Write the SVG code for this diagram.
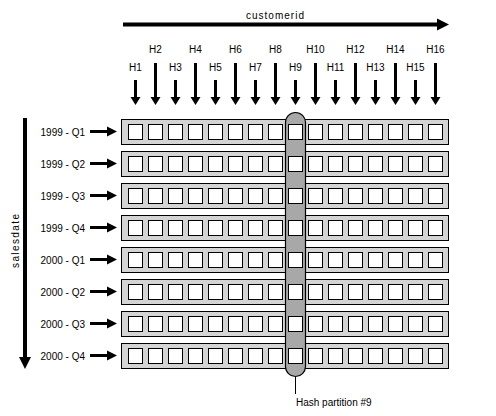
<svg xmlns="http://www.w3.org/2000/svg" width="496" height="416" viewBox="0 0 496 416">
<defs>
<style>
text{font-family:"Liberation Sans",Arial,sans-serif;font-size:10px;fill:#000}
.row{fill:#d4d4d4;stroke:#000;stroke-width:1}
.cell{fill:#fff;stroke:#000;stroke-width:1}
.pill{fill:#a8a8a8;stroke:#000;stroke-width:1.2}
.shaft{stroke:#000;fill:none}
.head{fill:#000}
</style>
<g id="cells">
<rect class="cell" x="128.5" y="5.5" width="14" height="15"/>
<rect class="cell" x="148.5" y="5.5" width="14" height="15"/>
<rect class="cell" x="168.5" y="5.5" width="14" height="15"/>
<rect class="cell" x="188.5" y="5.5" width="14" height="15"/>
<rect class="cell" x="208.5" y="5.5" width="14" height="15"/>
<rect class="cell" x="228.5" y="5.5" width="14" height="15"/>
<rect class="cell" x="248.5" y="5.5" width="14" height="15"/>
<rect class="cell" x="268.5" y="5.5" width="14" height="15"/>
<rect class="cell" x="308.5" y="5.5" width="14" height="15"/>
<rect class="cell" x="328.5" y="5.5" width="14" height="15"/>
<rect class="cell" x="348.5" y="5.5" width="14" height="15"/>
<rect class="cell" x="368.5" y="5.5" width="14" height="15"/>
<rect class="cell" x="388.5" y="5.5" width="14" height="15"/>
<rect class="cell" x="408.5" y="5.5" width="14" height="15"/>
<rect class="cell" x="428.5" y="5.5" width="14" height="15"/>
</g>
</defs>
<rect width="496" height="416" fill="#fff"/>

<g id="customerid-axis">
<line class="shaft" x1="123" y1="24.5" x2="438" y2="24.5" stroke-width="4"/>
<polygon class="head" points="437,18.5 449,24.5 437,30.5"/>
<text x="275" y="19" text-anchor="middle" textLength="58" lengthAdjust="spacing">customerid</text>
</g>

<g id="salesdate-axis">
<line class="shaft" x1="25" y1="118" x2="25" y2="358" stroke-width="4"/>
<polygon class="head" points="19,357 31,357 25,369"/>
<text transform="translate(18.5,241) rotate(-90)" text-anchor="middle" textLength="54" lengthAdjust="spacing">salesdate</text>
</g>

<g id="hash-labels">
<g id="h1"><text x="135.5" y="71" text-anchor="middle">H1</text><line class="shaft" x1="135.5" y1="80" x2="135.5" y2="98" stroke-width="3"/><polygon class="head" points="130.5,97 140.5,97 135.5,105"/></g>
<g id="h2"><text x="155.5" y="53" text-anchor="middle">H2</text><line class="shaft" x1="155.5" y1="63" x2="155.5" y2="98" stroke-width="3"/><polygon class="head" points="150.5,97 160.5,97 155.5,105"/></g>
<g id="h3"><text x="175.5" y="71" text-anchor="middle">H3</text><line class="shaft" x1="175.5" y1="80" x2="175.5" y2="98" stroke-width="3"/><polygon class="head" points="170.5,97 180.5,97 175.5,105"/></g>
<g id="h4"><text x="195.5" y="53" text-anchor="middle">H4</text><line class="shaft" x1="195.5" y1="63" x2="195.5" y2="98" stroke-width="3"/><polygon class="head" points="190.5,97 200.5,97 195.5,105"/></g>
<g id="h5"><text x="215.5" y="71" text-anchor="middle">H5</text><line class="shaft" x1="215.5" y1="80" x2="215.5" y2="98" stroke-width="3"/><polygon class="head" points="210.5,97 220.5,97 215.5,105"/></g>
<g id="h6"><text x="235.5" y="53" text-anchor="middle">H6</text><line class="shaft" x1="235.5" y1="63" x2="235.5" y2="98" stroke-width="3"/><polygon class="head" points="230.5,97 240.5,97 235.5,105"/></g>
<g id="h7"><text x="255.5" y="71" text-anchor="middle">H7</text><line class="shaft" x1="255.5" y1="80" x2="255.5" y2="98" stroke-width="3"/><polygon class="head" points="250.5,97 260.5,97 255.5,105"/></g>
<g id="h8"><text x="275.5" y="53" text-anchor="middle">H8</text><line class="shaft" x1="275.5" y1="63" x2="275.5" y2="98" stroke-width="3"/><polygon class="head" points="270.5,97 280.5,97 275.5,105"/></g>
<g id="h9"><text x="295.5" y="71" text-anchor="middle">H9</text><line class="shaft" x1="295.5" y1="80" x2="295.5" y2="98" stroke-width="3"/><polygon class="head" points="290.5,97 300.5,97 295.5,105"/></g>
<g id="h10"><text x="315.5" y="53" text-anchor="middle">H10</text><line class="shaft" x1="315.5" y1="63" x2="315.5" y2="98" stroke-width="3"/><polygon class="head" points="310.5,97 320.5,97 315.5,105"/></g>
<g id="h11"><text x="335.5" y="71" text-anchor="middle">H11</text><line class="shaft" x1="335.5" y1="80" x2="335.5" y2="98" stroke-width="3"/><polygon class="head" points="330.5,97 340.5,97 335.5,105"/></g>
<g id="h12"><text x="355.5" y="53" text-anchor="middle">H12</text><line class="shaft" x1="355.5" y1="63" x2="355.5" y2="98" stroke-width="3"/><polygon class="head" points="350.5,97 360.5,97 355.5,105"/></g>
<g id="h13"><text x="375.5" y="71" text-anchor="middle">H13</text><line class="shaft" x1="375.5" y1="80" x2="375.5" y2="98" stroke-width="3"/><polygon class="head" points="370.5,97 380.5,97 375.5,105"/></g>
<g id="h14"><text x="395.5" y="53" text-anchor="middle">H14</text><line class="shaft" x1="395.5" y1="63" x2="395.5" y2="98" stroke-width="3"/><polygon class="head" points="390.5,97 400.5,97 395.5,105"/></g>
<g id="h15"><text x="415.5" y="71" text-anchor="middle">H15</text><line class="shaft" x1="415.5" y1="80" x2="415.5" y2="98" stroke-width="3"/><polygon class="head" points="410.5,97 420.5,97 415.5,105"/></g>
<g id="h16"><text x="435.5" y="53" text-anchor="middle">H16</text><line class="shaft" x1="435.5" y1="63" x2="435.5" y2="98" stroke-width="3"/><polygon class="head" points="430.5,97 440.5,97 435.5,105"/></g>
</g>

<g id="row-labels">
<g id="l1"><text x="85" y="135.5" text-anchor="end">1999 - Q1</text><line class="shaft" x1="90" y1="131.5" x2="108" y2="131.5" stroke-width="3"/><polygon class="head" points="107,126.5 117,131.5 107,136.5"/></g>
<g id="l2"><text x="85" y="167.5" text-anchor="end">1999 - Q2</text><line class="shaft" x1="90" y1="163.5" x2="108" y2="163.5" stroke-width="3"/><polygon class="head" points="107,158.5 117,163.5 107,168.5"/></g>
<g id="l3"><text x="85" y="199.5" text-anchor="end">1999 - Q3</text><line class="shaft" x1="90" y1="195.5" x2="108" y2="195.5" stroke-width="3"/><polygon class="head" points="107,190.5 117,195.5 107,200.5"/></g>
<g id="l4"><text x="85" y="231.5" text-anchor="end">1999 - Q4</text><line class="shaft" x1="90" y1="227.5" x2="108" y2="227.5" stroke-width="3"/><polygon class="head" points="107,222.5 117,227.5 107,232.5"/></g>
<g id="l5"><text x="85" y="263.5" text-anchor="end">2000 - Q1</text><line class="shaft" x1="90" y1="259.5" x2="108" y2="259.5" stroke-width="3"/><polygon class="head" points="107,254.5 117,259.5 107,264.5"/></g>
<g id="l6"><text x="85" y="295.5" text-anchor="end">2000 - Q2</text><line class="shaft" x1="90" y1="291.5" x2="108" y2="291.5" stroke-width="3"/><polygon class="head" points="107,286.5 117,291.5 107,296.5"/></g>
<g id="l7"><text x="85" y="327.5" text-anchor="end">2000 - Q3</text><line class="shaft" x1="90" y1="323.5" x2="108" y2="323.5" stroke-width="3"/><polygon class="head" points="107,318.5 117,323.5 107,328.5"/></g>
<g id="l8"><text x="85" y="359.5" text-anchor="end">2000 - Q4</text><line class="shaft" x1="90" y1="355.5" x2="108" y2="355.5" stroke-width="3"/><polygon class="head" points="107,350.5 117,355.5 107,360.5"/></g>
</g>

<g id="rows">
<rect id="row1" class="row" x="121.5" y="119.5" width="327" height="25"/>
<rect id="row2" class="row" x="121.5" y="151.5" width="327" height="25"/>
<rect id="row3" class="row" x="121.5" y="183.5" width="327" height="25"/>
<rect id="row4" class="row" x="121.5" y="215.5" width="327" height="25"/>
<rect id="row5" class="row" x="121.5" y="247.5" width="327" height="25"/>
<rect id="row6" class="row" x="121.5" y="279.5" width="327" height="25"/>
<rect id="row7" class="row" x="121.5" y="311.5" width="327" height="25"/>
<rect id="row8" class="row" x="121.5" y="343.5" width="327" height="25"/>
</g>

<g id="row-cells">
<use href="#cells" y="119"/>
<use href="#cells" y="151"/>
<use href="#cells" y="183"/>
<use href="#cells" y="215"/>
<use href="#cells" y="247"/>
<use href="#cells" y="279"/>
<use href="#cells" y="311"/>
<use href="#cells" y="343"/>
</g>

<g id="hash-partition">
<rect class="pill" x="285.5" y="112.5" width="20" height="264" rx="10" ry="10"/>
<rect class="cell" x="288.5" y="124.5" width="14" height="15"/>
<rect class="cell" x="288.5" y="156.5" width="14" height="15"/>
<rect class="cell" x="288.5" y="188.5" width="14" height="15"/>
<rect class="cell" x="288.5" y="220.5" width="14" height="15"/>
<rect class="cell" x="288.5" y="252.5" width="14" height="15"/>
<rect class="cell" x="288.5" y="284.5" width="14" height="15"/>
<rect class="cell" x="288.5" y="316.5" width="14" height="15"/>
<rect class="cell" x="288.5" y="348.5" width="14" height="15"/>
</g>

<g id="connectors">
<line x1="295.5" y1="377" x2="295.5" y2="394" stroke="#000" stroke-width="1"/>
</g>
<text x="296" y="405.5">Hash partition #9</text>
</svg>
